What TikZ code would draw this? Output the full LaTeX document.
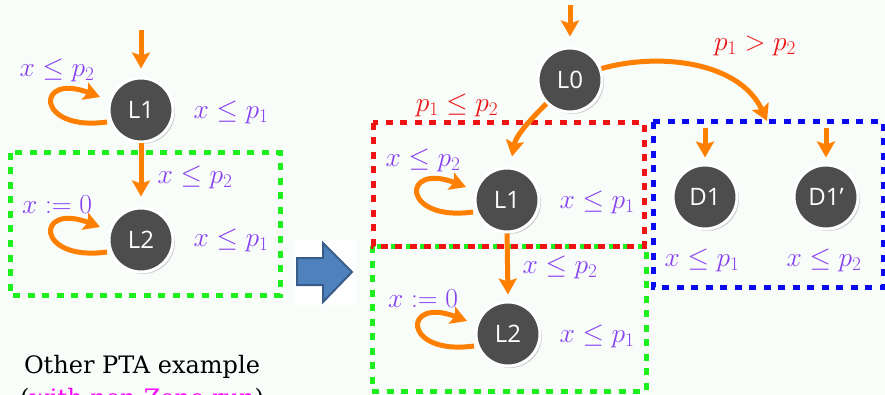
\RequirePackage{fix-cm}
\documentclass[tikz,border=0pt]{standalone}
\usepackage{fontspec}
\newfontfamily\nodefnt{Open Sans}
\newfontfamily\capfnt{DejaVu Serif}
\usetikzlibrary{arrows.meta,shadows}
\definecolor{orng}{RGB}{255,128,0}
\definecolor{vio}{RGB}{135,65,240}
\definecolor{rd}{RGB}{238,20,20}
\definecolor{grn}{RGB}{30,240,30}
\definecolor{blu}{RGB}{10,10,240}
\definecolor{nodegray}{RGB}{77,77,77}
\definecolor{bgc}{RGB}{248,253,250}
\definecolor{arrfill}{RGB}{79,129,189}
\definecolor{arrdraw}{RGB}{56,93,138}
\definecolor{mag}{RGB}{255,0,255}
\tikzset{
  state/.style={circle, fill=nodegray, draw=white, line width=3pt, minimum size=64pt,
    inner sep=0pt, text=white, font=\nodefnt\fontsize{24}{27}\selectfont,
    drop shadow={shadow xshift=2pt, shadow yshift=-2pt, opacity=0.35}},
  edge/.style={draw=orng, line width=5pt, -{Stealth[length=16pt,width=18pt,inset=3pt]}},
  lbl/.style={text=vio, font=\fontsize{27.5}{31}\selectfont, inner sep=0pt},
  cond/.style={text=rd, font=\fontsize{27.5}{31}\selectfont, inner sep=0pt},
  dbox/.style={line width=5pt, dash pattern=on 7pt off 7.5pt},
}
\begin{document}
\begin{tikzpicture}[x=1pt,y=-1pt]
\useasboundingbox (0,0) rectangle (885,395);
\clip (0,0) rectangle (885,395);
\fill[bgc] (0,0) rectangle (885,395);
% dashed boxes
\draw[dbox, grn] (10,153) rectangle (280,295);
\draw[dbox, grn] (372,246) rectangle (646,391);
\draw[dbox, rd] (373,123) rectangle (644,246);
\draw[dbox, blu] (653,122) rectangle (883,287);
% big blue arrow
\fill[white] (294,240) rectangle (356,305);
\draw[fill=arrfill, draw=arrdraw, line width=2pt, line join=miter]
  (297,258) -- (323,258) -- (323,243) -- (352,272) -- (323,302) -- (323,285) -- (297,285) -- cycle;
% left automaton
\node[state] (L1) at (141,110) {L1};
\node[state] (L2) at (141,240) {L2};
\coordinate (i1) at (141,30);
\draw[edge] (i1) -- ([yshift=8pt]L1.north);
\draw[edge] (L1.south) -- ([yshift=10pt]L2.north);
\draw[edge] ([shift={(-34,12)}]L1.center) .. controls ([shift={(-106,22)}]L1.center) and ([shift={(-106,-38)}]L1.center) .. ([shift={(-41,-13)}]L1.center);
\draw[edge] ([shift={(-34,12)}]L2.center) .. controls ([shift={(-106,22)}]L2.center) and ([shift={(-106,-38)}]L2.center) .. ([shift={(-41,-13)}]L2.center);
\node[lbl] (a1) at (57,70) {$x \le p_2$};
\node[lbl] (a2) at (231,112) {$x \le p_1$};
\node[lbl] (a3) at (195,177) {$x \le p_2$};
\node[lbl] (a4) at (57,205) {$x := 0$};
\node[lbl] (a5) at (231,240) {$x \le p_1$};
% caption
\node[font=\capfnt\fontsize{24}{28}\selectfont, anchor=base, inner sep=0pt] (c1) at (142,373) {Other PTA example};
\node[font=\capfnt\fontsize{24}{28}\selectfont, anchor=base, inner sep=0pt] (c2) at (142,406) {(\textcolor{mag}{with non-Zeno run})};
% right automaton
\node[state] (R0) at (570,80) {L0};
\node[state] (R1) at (507,200) {L1};
\node[state] (R2) at (508,334) {L2};
\node[state] (D1) at (705,197) {D1};
\node[state] (D2) at (826,197) {D1’};
\coordinate (i0) at (570,5);
\coordinate (btop) at (767,121);
\coordinate (id1) at (705,128);
\coordinate (id2) at (826,128);
\draw[edge] (i0) -- ([yshift=10pt]R0.north);
\draw[edge] (R0.225) .. controls (532,118) and (516,135) .. ([shift={(5,-10)}]R1.north);
\draw[edge] (R0.20) .. controls (660,52) and (740,62) .. (btop);
\draw[edge] (R1.south) -- ([yshift=6pt]R2.north);
\draw[edge] (id1) -- ([yshift=6pt]D1.north);
\draw[edge] (id2) -- ([yshift=6pt]D2.north);
\draw[edge] ([shift={(-34,12)}]R1.center) .. controls ([shift={(-106,22)}]R1.center) and ([shift={(-106,-38)}]R1.center) .. ([shift={(-41,-13)}]R1.center);
\draw[edge] ([shift={(-34,12)}]R2.center) .. controls ([shift={(-106,22)}]R2.center) and ([shift={(-106,-38)}]R2.center) .. ([shift={(-41,-13)}]R2.center);
\node[cond] (b1) at (457,105) {$p_1 \le p_2$};
\node[cond] (b2) at (755,46) {$p_1 > p_2$};
\node[lbl] (b3) at (423,160) {$x \le p_2$};
\node[lbl] (b4) at (597,202) {$x \le p_1$};
\node[lbl] (b5) at (560,267) {$x \le p_2$};
\node[lbl] (b6) at (423,299) {$x := 0$};
\node[lbl] (b7) at (597,336) {$x \le p_1$};
\node[lbl] (b8) at (702,260) {$x \le p_1$};
\node[lbl] (b9) at (824,260) {$x \le p_2$};
\end{tikzpicture}
\end{document}
